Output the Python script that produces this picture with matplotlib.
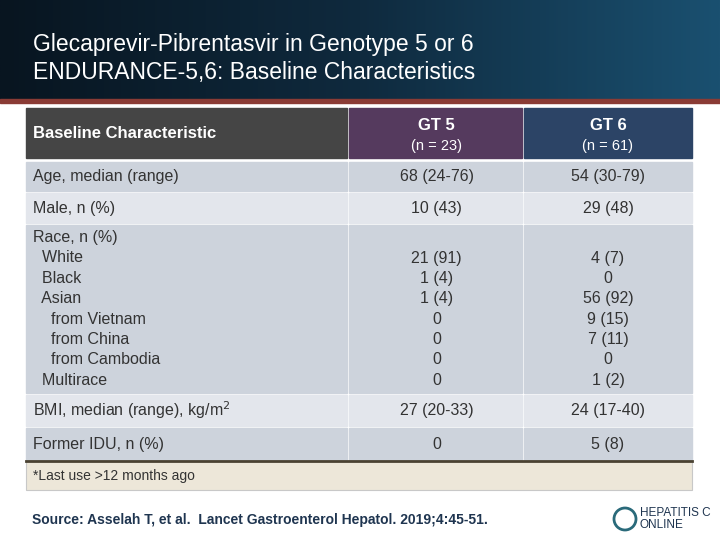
import matplotlib

matplotlib.use("Agg")
import matplotlib.pyplot as plt
import numpy as np
from matplotlib.patches import Rectangle

plt.rcParams["font.family"] = ["Liberation Sans", "DejaVu Sans"]

title_lines = ["Glecaprevir-Pibrentasvir in Genotype 5 or 6",
               "ENDURANCE-5,6: Baseline Characteristics"]
col_heads = [("GT 5", "(n = 23)"), ("GT 6", "(n = 61)")]
row_labels = [
    ["Age, median (range)"],
    ["Male, n (%)"],
    ["Race, n (%)", "  White", "  Black", "  Asian", "    from Vietnam", "    from China",
     "    from Cambodia", "  Multirace"],
    ["BMI, median (range), kg/m$^2$"],
    ["Former IDU, n (%)"],
]
gt5 = [["68 (24-76)"], ["10 (43)"], ["", "21 (91)", "1 (4)", "1 (4)", "0", "0", "0", "0"],
       ["27 (20-33)"], ["0"]]
gt6 = [["54 (30-79)"], ["29 (48)"], ["", "4 (7)", "0", "56 (92)", "9 (15)", "7 (11)", "0", "1 (2)"],
       ["24 (17-40)"], ["5 (8)"]]
footnote = "*Last use >12 months ago"
source = "Source: Asselah T, et al.  Lancet Gastroenterol Hepatol. 2019;4:45-51."

fig = plt.figure(figsize=(7.2, 5.4), dpi=100)
ax = fig.add_axes([0, 0, 1, 1])
ax.set_xlim(0, 720)
ax.set_ylim(540, 0)
ax.axis("off")

# header band with gradient
grad = np.linspace(0, 1, 256)[None, :]
ax.imshow(grad, extent=(0, 720, 100, 0), cmap=matplotlib.colors.LinearSegmentedColormap.from_list(
    "hdr", ["#081520", "#0f2a3e", "#1a5070"]), aspect="auto", zorder=0)
ax.add_patch(Rectangle((0, 99), 720, 4, color="#8a3b35", zorder=1))
ax.add_patch(Rectangle((0, 103), 720, 437, color="white", zorder=0.5))
for i, t in enumerate(title_lines):
    ax.text(33, 45 + 27 * i, t, color="white", fontsize=16.5, va="center")

x0, x1, x2, x3 = 26, 349, 524, 692
# header row
ax.add_patch(Rectangle((x0, 108), x1 - x0 - 2, 50, color="#454545"))
ax.add_patch(Rectangle((x1, 108), x2 - x1 - 2, 50, color="#553a5e"))
ax.add_patch(Rectangle((x2, 108), x3 - x2, 50, color="#2c4466"))
ax.text(33, 134, "Baseline Characteristic", color="white", fontsize=12, fontweight="bold", va="center")
for cx, (h, n) in zip([(x1 + x2) / 2, (x2 + x3) / 2], col_heads):
    ax.text(cx, 125, h, color="white", fontsize=12, fontweight="bold", ha="center", va="center")
    ax.text(cx, 146, n, color="white", fontsize=10.5, ha="center", va="center")

row_tops = [162, 193, 225, 395, 428]
row_bots = [191, 223, 393, 426, 461]
fills = ["#cdd3dc", "#e3e6ec", "#cdd3dc", "#e3e6ec", "#cdd3dc"]
step = 20.4
for k in range(len(row_labels)):
    top, bot = row_tops[k], row_bots[k]
    for a, b in [(x0, x1 - 2), (x1, x2 - 2), (x2, x3)]:
        ax.add_patch(Rectangle((a, top), b - a, bot - top, color=fills[k]))
    n = len(row_labels[k])
    y_start = (top + bot) / 2 - (n - 1) * step / 2
    for j in range(n):
        y = y_start + j * step
        ax.text(33, y, row_labels[k][j], fontsize=11.5, color="#333333", va="center")
        ax.text((x1 + x2) / 2, y, gt5[k][j], fontsize=11.5, color="#333333", ha="center", va="center")
        ax.text((x2 + x3) / 2, y, gt6[k][j], fontsize=11.5, color="#333333", ha="center", va="center")

ax.add_patch(Rectangle((x0, 461), x3 - x0, 29, facecolor="#ede7d9", edgecolor="#c8c8c8", lw=0.8))
ax.plot([x0, x3], [461, 461], color="#4a4232", lw=2)
ax.text(33, 476, footnote, fontsize=10, color="#333333", va="center")

ax.text(32, 520, source, fontsize=10, color="#1f3550", fontweight="bold", va="center")
ax.text(640, 519, "HEPATITIS C\nONLINE", fontsize=8.5, color="#1f3550", va="center", linespacing=1.1)
ax.add_patch(plt.Circle((625, 519), 11, facecolor="white", edgecolor="#2a6a7a", lw=2))

fig.savefig("out.png", dpi=100)
